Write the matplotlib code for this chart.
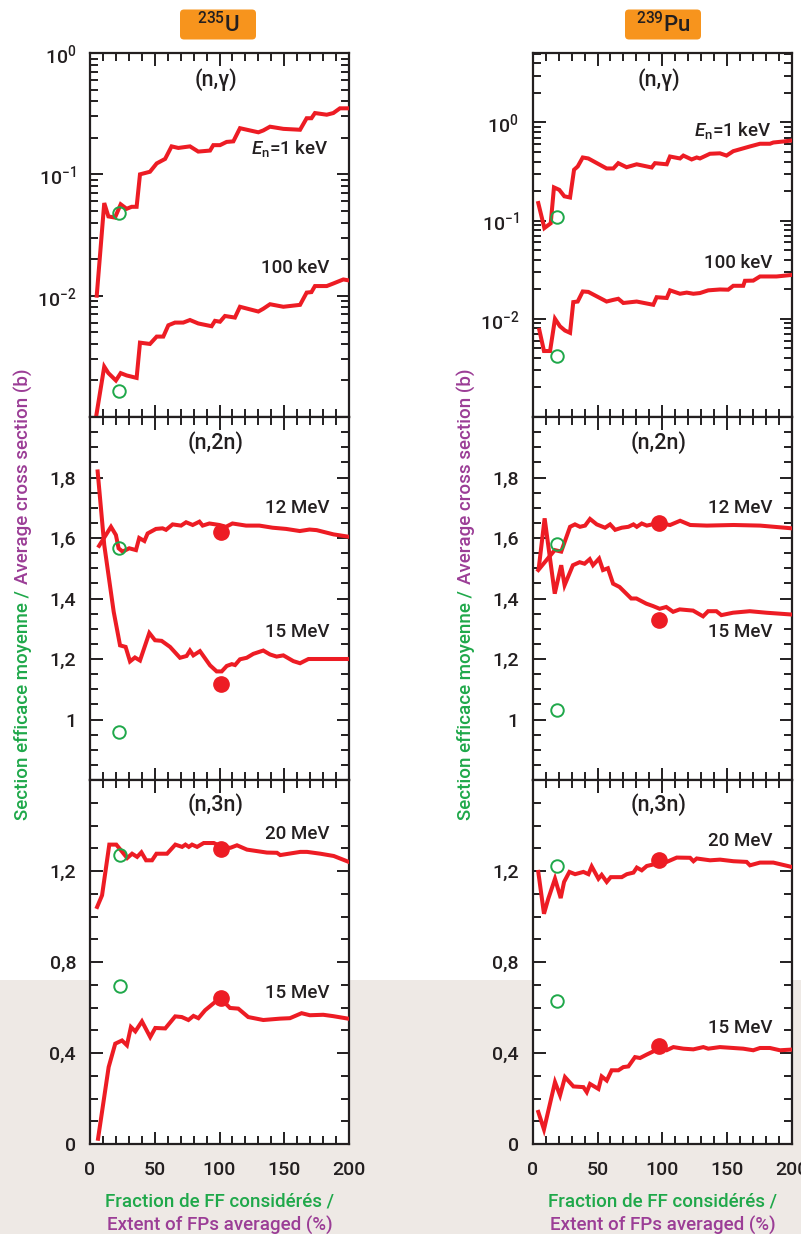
import numpy as np
import matplotlib.pyplot as plt
from matplotlib.patches import Rectangle, FancyBboxPatch
from matplotlib.ticker import (FixedLocator, MultipleLocator, LogLocator,
                               NullFormatter, FuncFormatter)

plt.rcParams['font.family'] = ['Roboto', 'DejaVu Sans']
plt.rcParams['font.weight'] = 'medium'
plt.rcParams['mathtext.fontset'] = 'custom'
plt.rcParams['mathtext.rm'] = 'Roboto:medium'
plt.rcParams['mathtext.it'] = 'Roboto:italic:medium'

# ---- 235U ----
u_ng1_x = [5.2, 11, 14.2, 19.3, 23.7, 28.3, 32.2, 36, 38.6, 46.3, 51.5, 58, 63, 68.2, 77.2, 83.6, 92.7, 95.2,
           100.4, 105.5, 110.7, 115.8, 130, 133.8, 139, 149.3, 162.2, 167.3, 171, 173.7, 182.8, 187.9, 193, 201]
u_ng1_y = [0.010, 0.058, 0.045, 0.044, 0.0566, 0.052, 0.054, 0.054, 0.100, 0.105, 0.123, 0.134, 0.170, 0.165,
           0.170, 0.154, 0.157, 0.174, 0.174, 0.185, 0.187, 0.240, 0.222, 0.230, 0.247, 0.237, 0.233, 0.290,
           0.290, 0.320, 0.310, 0.320, 0.350, 0.350]
u_ng100_x = [5, 11, 14.2, 20, 23.7, 28.3, 36, 38.6, 46.3, 51.5, 56.6, 60.5, 65.6, 72, 77.2, 83.6, 93.9, 96.5,
             100.4, 104.2, 111.9, 115.8, 130, 133.8, 139, 149.3, 162.2, 167.3, 171, 173.7, 182.8, 187.9, 195.6, 201]
u_ng100_y = [0.00105, 0.0026, 0.0023, 0.0020, 0.0023, 0.0022, 0.0021, 0.0041, 0.0040, 0.0046, 0.0046, 0.0057,
             0.0060, 0.0060, 0.0063, 0.0059, 0.0056, 0.0062, 0.0061, 0.0068, 0.0066, 0.0081, 0.0074, 0.0078,
             0.0085, 0.0081, 0.0084, 0.0106, 0.0107, 0.0120, 0.0120, 0.0126, 0.0136, 0.0133]
u_ng_open_x = [22.4, 22.4]
u_ng_open_y = [0.048, 0.00164]

u_n2n12_x = [7, 16.2, 20, 22.1, 25.2, 30.3, 35.5, 38, 42, 44.5, 50.9, 56, 58.7, 63.8, 70.3, 74.2, 79.3, 84.5,
             87, 92.2, 100, 105, 110, 120.5, 130.8, 141, 151.5, 162, 169.5, 175, 188, 200]
u_n2n12_y = [1.574, 1.637, 1.61, 1.566, 1.555, 1.566, 1.56, 1.6, 1.59, 1.615, 1.63, 1.632, 1.627, 1.645, 1.641,
             1.652, 1.643, 1.654, 1.641, 1.648, 1.643, 1.637, 1.648, 1.641, 1.641, 1.634, 1.63, 1.623, 1.628,
             1.626, 1.612, 1.604]
u_n2n15_x = [5.9, 11, 18.3, 23.2, 27.5, 30.9, 34.7, 38.6, 45.8, 50.2, 55.3, 61.8, 69.5, 74.6, 77.2, 79.8, 84.9,
             92.7, 97.8, 101.7, 105.6, 109.5, 112, 115.8, 121, 126.1, 133.8, 139, 144.1, 149.3, 157, 162.2,
             168.7, 200]
u_n2n15_y = [1.82, 1.577, 1.356, 1.245, 1.24, 1.192, 1.205, 1.195, 1.286, 1.262, 1.26, 1.24, 1.204, 1.21, 1.228,
             1.212, 1.226, 1.179, 1.159, 1.159, 1.177, 1.183, 1.18, 1.199, 1.204, 1.217, 1.228, 1.215, 1.208,
             1.212, 1.193, 1.186, 1.2, 1.2]
u_n2n_open_x = [22.7, 22.7]
u_n2n_open_y = [1.566, 0.96]
u_n2n_full_x = [101.3, 101.3]
u_n2n_full_y = [1.621, 1.118]

u_n3n20_x = [5.5, 9.3, 14.9, 20.3, 23.9, 28.7, 32.5, 36.4, 39.7, 43.3, 47.9, 51.3, 59.5, 65.9, 71.1, 73.7, 76.3,
             78.8, 82.7, 87.8, 95.6, 101.9, 108.4, 113.5, 121.2, 136.6, 144.4, 146.9, 162.4, 167.6, 177.9,
             188.2, 199.8]
u_n3n20_y = [1.042, 1.093, 1.316, 1.316, 1.291, 1.257, 1.276, 1.262, 1.282, 1.247, 1.247, 1.276, 1.276, 1.316,
             1.306, 1.316, 1.306, 1.316, 1.306, 1.323, 1.323, 1.306, 1.302, 1.313, 1.294, 1.281, 1.28, 1.27,
             1.284, 1.284, 1.276, 1.266, 1.24]
u_n3n15_x = [6.2, 14.4, 19.5, 24.7, 28.5, 31.6, 35, 40.1, 46.5, 50.4, 58.1, 65.8, 70.9, 76, 79.9, 83.7, 88.9,
             100.4, 108.1, 114.5, 122.2, 133.8, 146.7, 154.4, 163.4, 169.8, 180.1, 187.8, 199.3]
u_n3n15_y = [0.023, 0.338, 0.441, 0.455, 0.434, 0.514, 0.495, 0.539, 0.47, 0.51, 0.508, 0.561, 0.558, 0.545,
             0.563, 0.553, 0.588, 0.642, 0.598, 0.595, 0.558, 0.545, 0.551, 0.553, 0.575, 0.566, 0.568, 0.562,
             0.551]
u_n3n_open_x = [22.8, 22.8]
u_n3n_open_y = [1.27, 0.695]
u_n3n_full_x = [101.3, 101.3]
u_n3n_full_y = [1.298, 0.642]

# ---- 239Pu ----
pu_ng1_x = [4.3, 9, 13.9, 16.4, 20.5, 24.4, 28.8, 31.9, 34.7, 38.6, 42.9, 57, 62.2, 66, 72.4, 80.2, 91.8, 94.3,
            103.4, 105.9, 113.6, 116.2, 122.6, 126.5, 129, 136.7, 144.4, 149.5, 154.7, 167.6, 175.3, 183,
            185.6, 193.3, 200]
pu_ng1_y = [0.151, 0.084, 0.094, 0.218, 0.206, 0.177, 0.172, 0.33, 0.356, 0.44, 0.43, 0.34, 0.34, 0.385, 0.35,
            0.375, 0.348, 0.385, 0.375, 0.45, 0.43, 0.46, 0.42, 0.44, 0.43, 0.48, 0.485, 0.46, 0.51, 0.57,
            0.607, 0.607, 0.625, 0.64, 0.655]
pu_ng100_x = [5.1, 8.7, 13.4, 17.2, 21, 24.9, 28.8, 31.3, 34.7, 38.6, 42.9, 57, 62.2, 66, 69.9, 80.2, 93, 95.6,
              103.4, 105.9, 113.6, 118.8, 123.9, 129, 135.4, 144.4, 150.8, 154.7, 162.4, 163.7, 170.1, 175.3,
              188.1, 200]
pu_ng100_y = [0.0077, 0.0047, 0.0047, 0.010, 0.0084, 0.0076, 0.0072, 0.0148, 0.015, 0.019, 0.0188, 0.015,
              0.0156, 0.016, 0.0145, 0.015, 0.0139, 0.0166, 0.0163, 0.0195, 0.018, 0.0185, 0.018, 0.0183,
              0.0195, 0.0199, 0.0198, 0.0217, 0.0217, 0.0244, 0.0245, 0.027, 0.027, 0.028]
pu_ng_open_x = [18.5, 18.5]
pu_ng_open_y = [0.109, 0.0042]

pu_n2n12_x = [4.3, 17, 22, 28.8, 32.6, 36.5, 40.4, 44.2, 49.4, 55.8, 59.7, 63.6, 68.7, 73.8, 77.7, 80.3, 84.1,
              88, 93.2, 98.3, 106, 113.7, 121.5, 134.3, 154.9, 175.4, 199.8]
pu_n2n12_y = [1.494, 1.56, 1.555, 1.637, 1.645, 1.637, 1.641, 1.663, 1.645, 1.634, 1.645, 1.627, 1.634, 1.637,
              1.645, 1.637, 1.648, 1.641, 1.646, 1.648, 1.643, 1.657, 1.643, 1.641, 1.643, 1.641, 1.632]
pu_n2n15_x = [4.8, 9.2, 17, 22, 24.6, 31, 36.2, 40, 44, 46.5, 51.2, 54.2, 58, 62, 67, 76, 80, 87.6, 92.8, 97.9,
              103, 108.3, 113.4, 123.7, 131.4, 135.3, 141.7, 145.5, 154.5, 167.4, 180.2, 199.8]
pu_n2n15_y = [1.505, 1.665, 1.416, 1.51, 1.444, 1.51, 1.52, 1.515, 1.53, 1.51, 1.532, 1.494, 1.5, 1.449, 1.438,
              1.4, 1.4, 1.383, 1.375, 1.366, 1.372, 1.356, 1.364, 1.36, 1.341, 1.358, 1.358, 1.345, 1.353,
              1.358, 1.353, 1.347]
pu_n2n_open_x = [18.5, 18.5]
pu_n2n_open_y = [1.579, 1.033]
pu_n2n_full_x = [97.7, 97.7]
pu_n2n_full_y = [1.648, 1.328]

pu_n3n20_x = [4.3, 8.7, 12, 17.2, 21.6, 24.2, 28.3, 32.7, 39.1, 43, 45.5, 50.7, 53.2, 57.1, 60.2, 68.7, 72.6,
              77.7, 80.3, 84.1, 88, 93.2, 98.3, 103.4, 111.1, 121.4, 124, 126.5, 136.8, 144.5, 154.8, 165,
              167.6, 175.3, 185.6, 199.7]
pu_n3n20_y = [1.196, 1.012, 1.078, 1.166, 1.081, 1.152, 1.196, 1.186, 1.196, 1.186, 1.22, 1.166, 1.183, 1.152,
              1.173, 1.173, 1.186, 1.193, 1.215, 1.203, 1.222, 1.229, 1.247, 1.24, 1.259, 1.258, 1.243, 1.255,
              1.247, 1.25, 1.243, 1.24, 1.225, 1.237, 1.237, 1.218]
pu_n3n15_x = [4.3, 8.7, 17.2, 21.1, 24.9, 31.4, 39.1, 41.7, 44.2, 50.7, 53.2, 57.1, 60.9, 66.1, 69.9, 73.8,
              78.9, 82.8, 87.9, 93, 98.2, 103.3, 108.5, 116.2, 123.9, 131.6, 135.4, 144.4, 162.4, 170.1, 175.3,
              183, 190.7, 199.7]
pu_n3n15_y = [0.141, 0.064, 0.272, 0.214, 0.294, 0.253, 0.25, 0.228, 0.264, 0.242, 0.297, 0.279, 0.324, 0.324,
              0.338, 0.341, 0.382, 0.378, 0.393, 0.407, 0.419, 0.412, 0.426, 0.419, 0.416, 0.426, 0.419, 0.426,
              0.419, 0.412, 0.422, 0.422, 0.412, 0.415]
pu_n3n_open_x = [18.5, 18.5]
pu_n3n_open_y = [1.22, 0.627]
pu_n3n_full_x = [97.7, 97.7]
pu_n3n_full_y = [1.25, 0.431]

RED = '#ed1c24'
GREEN = '#1fa84a'
PURPLE = '#9b3d96'
DARK = '#231f20'
FS = 13.5

W, H = 801, 1234
fig = plt.figure(figsize=(W / 100, H / 100), dpi=100)
fig.add_artist(Rectangle((0, 0), 1, 1 - 980 / H, transform=fig.transFigure,
                         facecolor='#eee9e5', edgecolor='none', zorder=-5))


def add_ax(x0, x1, y0, y1):
    return fig.add_axes([x0 / W, 1 - y1 / H, (x1 - x0) / W, (y1 - y0) / H])


def comma(v, pos):
    return ('%g' % v).replace('.', ',')


def style(ax, bottom):
    ax.set_xlim(0, 200)
    ax.xaxis.set_major_locator(MultipleLocator(50))
    ax.xaxis.set_minor_locator(MultipleLocator(10))
    ax.tick_params(which='both', direction='in', top=True, right=True, width=1.4,
                   color=DARK, labelcolor=DARK, labelsize=14)
    ax.tick_params(which='major', length=9)
    ax.tick_params(which='minor', length=5.5)
    ax.tick_params(axis='y', pad=10)
    ax.tick_params(axis='x', pad=12, labelbottom=bottom)
    for s in ax.spines.values():
        s.set_linewidth(1.6)
        s.set_color(DARK)


def curve(ax, x, y):
    ax.plot(x, y, color=RED, lw=2.9, solid_joinstyle='miter', zorder=3)


def marks(ax, ox, oy, fx=None, fy=None):
    ax.plot(ox, oy, 'o', ms=9, mfc='none', mec=GREEN, mew=1.4, zorder=4)
    if fx is not None:
        ax.plot(fx, fy, 'o', ms=11, color=RED, zorder=5)


def label(ax, x, y, s, ha='right', size=FS):
    ax.text(x, y, s, transform=ax.transAxes, ha=ha, va='center', fontsize=size, color=DARK)


cols = [(90, 349), (532.7, 792)]
rows = [(53, 417), (417, 780), (780, 1144)]
nuclides = [r'$^{235}$U', r'$^{239}$Pu']
box_cx = [218, 663]

data = [
    dict(ng=[(u_ng1_x, u_ng1_y), (u_ng100_x, u_ng100_y)], ng_open=(u_ng_open_x, u_ng_open_y), ng_top=1.0,
         n2n=[(u_n2n12_x, u_n2n12_y), (u_n2n15_x, u_n2n15_y)],
         n2n_m=(u_n2n_open_x, u_n2n_open_y, u_n2n_full_x, u_n2n_full_y),
         n3n=[(u_n3n20_x, u_n3n20_y), (u_n3n15_x, u_n3n15_y)],
         n3n_m=(u_n3n_open_x, u_n3n_open_y, u_n3n_full_x, u_n3n_full_y),
         lab_y=[0.739, 0.409, 0.75, 0.408, 0.852, 0.415]),
    dict(ng=[(pu_ng1_x, pu_ng1_y), (pu_ng100_x, pu_ng100_y)], ng_open=(pu_ng_open_x, pu_ng_open_y), ng_top=5.1,
         n2n=[(pu_n2n12_x, pu_n2n12_y), (pu_n2n15_x, pu_n2n15_y)],
         n2n_m=(pu_n2n_open_x, pu_n2n_open_y, pu_n2n_full_x, pu_n2n_full_y),
         n3n=[(pu_n3n20_x, pu_n3n20_y), (pu_n3n15_x, pu_n3n15_y)],
         n3n_m=(pu_n3n_open_x, pu_n3n_open_y, pu_n3n_full_x, pu_n3n_full_y),
         lab_y=[0.786, 0.423, 0.75, 0.408, 0.832, 0.319]),
]

for c, (x0, x1) in enumerate(cols):
    d = data[c]
    ly = d['lab_y']

    # (n,gamma)
    ax = add_ax(x0, x1, *rows[0])
    style(ax, False)
    ax.set_yscale('log')
    ax.set_ylim(1e-3, d['ng_top'])
    ax.yaxis.set_major_locator(FixedLocator([1, 0.1, 0.01]))
    ax.yaxis.set_major_formatter(FuncFormatter(lambda v, p: '10$^{%d}$' % round(np.log10(v))))
    ax.yaxis.set_minor_locator(LogLocator(base=10, subs=np.arange(2, 10), numticks=20))
    ax.yaxis.set_minor_formatter(NullFormatter())
    for x, y in d['ng']:
        curve(ax, x, y)
    marks(ax, *d['ng_open'])
    label(ax, 0.486, 0.927, '(n,γ)', ha='center', size=15.5)
    label(ax, 0.923, ly[0], r'$E_\mathrm{n}$=1 keV')
    label(ax, 0.923, ly[1], '100 keV')

    # (n,2n)
    ax = add_ax(x0, x1, *rows[1])
    style(ax, False)
    ax.set_ylim(0.8, 2.0)
    ax.yaxis.set_major_locator(FixedLocator([1.0, 1.2, 1.4, 1.6, 1.8]))
    ax.yaxis.set_minor_locator(MultipleLocator(0.05))
    ax.yaxis.set_major_formatter(FuncFormatter(comma))
    for x, y in d['n2n']:
        curve(ax, x, y)
    marks(ax, *d['n2n_m'])
    label(ax, 0.486, 0.929, '(n,2n)', ha='center', size=15.5)
    label(ax, 0.923, ly[2], '12 MeV')
    label(ax, 0.923, ly[3], '15 MeV')

    # (n,3n)
    ax = add_ax(x0, x1, *rows[2])
    style(ax, True)
    ax.set_ylim(0, 1.6)
    ax.yaxis.set_major_locator(FixedLocator([0, 0.4, 0.8, 1.2]))
    ax.yaxis.set_minor_locator(MultipleLocator(0.1))
    ax.yaxis.set_major_formatter(FuncFormatter(comma))
    for x, y in d['n3n']:
        curve(ax, x, y)
    marks(ax, *d['n3n_m'])
    label(ax, 0.486, 0.932, '(n,3n)', ha='center', size=15.5)
    label(ax, 0.923, ly[4], '20 MeV')
    label(ax, 0.923, ly[5], '15 MeV')

    # nuclide badge
    bx = box_cx[c]
    fig.add_artist(FancyBboxPatch(((bx - 38) / 100, (H - 39.5) / 100), 0.76, 0.30,
                                  boxstyle='round,pad=0,rounding_size=0.04',
                                  transform=fig.dpi_scale_trans, facecolor='#f7941d',
                                  edgecolor='none'))
    fig.text(bx / W, 1 - 24.5 / H, nuclides[c], ha='center', va='center', fontsize=16, color=DARK)

    # y label (two colours)
    ylx = [23, 466][c] / W
    fig.text(ylx, 1 - 590 / H, 'Section efficace moyenne /', rotation=90, rotation_mode='anchor',
             ha='right', va='center', fontsize=FS, color=GREEN)
    fig.text(ylx, 1 - 584 / H, 'Average cross section (b)', rotation=90, rotation_mode='anchor',
             ha='left', va='center', fontsize=FS, color=PURPLE)

    # x label (two lines)
    xc = (x0 + x1) / 2 / W
    fig.text(xc, 1 - 1202 / H, 'Fraction de FF considérés /', ha='center', va='center',
             fontsize=FS, color=GREEN)
    fig.text(xc, 1 - 1225 / H, 'Extent of FPs averaged (%)', ha='center', va='center',
             fontsize=FS, color=PURPLE)

fig.savefig('out.png', dpi=100)
